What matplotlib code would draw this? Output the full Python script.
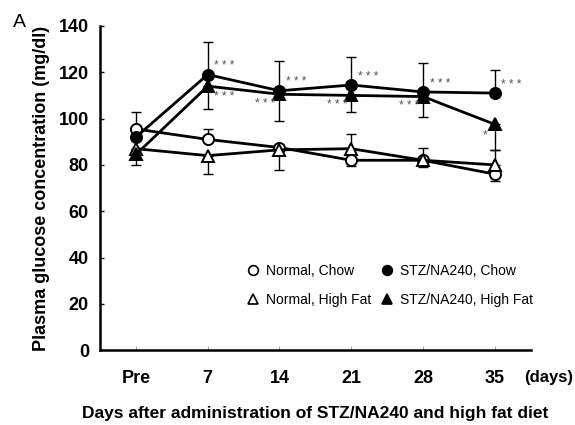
import matplotlib
matplotlib.use("Agg")
import matplotlib.pyplot as plt
from matplotlib.lines import Line2D

plt.rcParams['font.family'] = ['Liberation Sans Narrow', 'Liberation Sans', 'DejaVu Sans']

# data (mg/dl)
days = ["Pre", "7", "14", "21", "28", "35"]

normal_chow = [95.5, 91, 87.5, 82, 82, 76]
normal_chow_lo = [0, 0, 0, 2.5, 3, 3]
normal_chow_hi = [7.5, 4.5, 0, 0, 0, 0]

normal_hf = [87, 84, 86.5, 87, 82, 80]
normal_hf_lo = [0, 8, 8.5, 0, 0, 0]
normal_hf_hi = [0, 0, 0, 6.5, 5.5, 6.5]

stz_chow = [92, 119, 112, 114.5, 111.5, 111]
stz_chow_lo = [0, 0, 0, 0, 0, 0]
stz_chow_hi = [0, 14, 13, 12, 12.5, 10]

stz_hf = [84.5, 114, 110.5, 110, 109.5, 97.5]
stz_hf_lo = [4.5, 10, 11.5, 7, 9, 11]
stz_hf_hi = [0, 0, 0, 0, 0, 0]

stz_chow_sig = ["", "***", "***", "***", "***", "***"]
stz_hf_sig = ["", "***", "***", "***", "***", "*"]

x = list(range(len(days)))

fig = plt.figure(figsize=(5.75, 4.25), dpi=100)
ax = fig.add_axes([0.174, 0.176, 0.749, 0.763])

series = [
    (normal_chow, normal_chow_lo, normal_chow_hi, "o", "white", "Normal, Chow"),
    (normal_hf, normal_hf_lo, normal_hf_hi, "^", "white", "Normal, High Fat"),
    (stz_chow, stz_chow_lo, stz_chow_hi, "o", "black", "STZ/NA240, Chow"),
    (stz_hf, stz_hf_lo, stz_hf_hi, "^", "black", "STZ/NA240, High Fat"),
]

for vals, lo, hi, mk, fc, lab in series:
    ax.errorbar(x, vals, yerr=[lo, hi], fmt="none", ecolor="black",
                elinewidth=1.0, capsize=3.5, capthick=1.0, zorder=1)
for vals, lo, hi, mk, fc, lab in series:
    ax.plot(x, vals, color="black", lw=2.0, marker=mk, markersize=8,
            markerfacecolor=fc, markeredgecolor="black", markeredgewidth=1.4,
            zorder=3)

# significance marks
for i, s in enumerate(stz_chow_sig):
    if s:
        ax.annotate(" ".join(s), (x[i], stz_chow[i]), xytext=(12, 6),
                    textcoords="offset points", ha="center", va="center",
                    fontsize=8.5, color="#555555")
for i, s in enumerate(stz_hf_sig):
    if not s:
        continue
    if i == 1:
        off = (12, -8)
    else:
        off = (-10, -7) if s == "***" else (-7, -8)
    ax.annotate(" ".join(s), (x[i], stz_hf[i]), xytext=off,
                textcoords="offset points", ha="center", va="center",
                fontsize=8.5, color="#555555")

ax.set_xlim(-0.5, 5.5)
ax.set_ylim(0, 140)
ax.set_yticks(range(0, 141, 20))
ax.set_xticks(x)
ax.set_xticklabels(days)
ax.spines["top"].set_visible(False)
ax.spines["right"].set_visible(False)
ax.spines["left"].set_linewidth(1.8)
ax.spines["bottom"].set_linewidth(1.8)
ax.tick_params(axis="y", direction="in", length=3, width=1, pad=8,
               labelsize=13)
ax.tick_params(axis="x", direction="in", length=3, width=0.6, color="#888888",
               pad=14, labelsize=13)
for t in ax.get_xticklabels() + ax.get_yticklabels():
    t.set_fontweight("bold")

ax.set_ylabel("Plasma glucose concentration (mg/dl)", fontsize=13,
              fontweight="bold", labelpad=6)
ax.set_xlabel("Days after administration of STZ/NA240 and high fat diet",
              fontsize=12.5, fontweight="bold", labelpad=14)
fig.text(0.997, 0.112, "(days)", fontsize=12, fontweight="bold",
         ha="right", va="center")
fig.text(0.033, 0.948, "A", fontsize=14, ha="center", va="center")

handles = [Line2D([], [], ls="none", marker=mk, markersize=7,
                  markerfacecolor=fc, markeredgecolor="black",
                  markeredgewidth=1.2, label=lab)
           for vals, lo, hi, mk, fc, lab in series]
ax.legend(handles=handles, ncol=2, frameon=False, fontsize=10,
          loc="upper left", bbox_to_anchor=(0.31, 0.305),
          handletextpad=0.4, columnspacing=0.7, labelspacing=1.1,
          handlelength=1.0)

fig.savefig("out.png", dpi=100)
